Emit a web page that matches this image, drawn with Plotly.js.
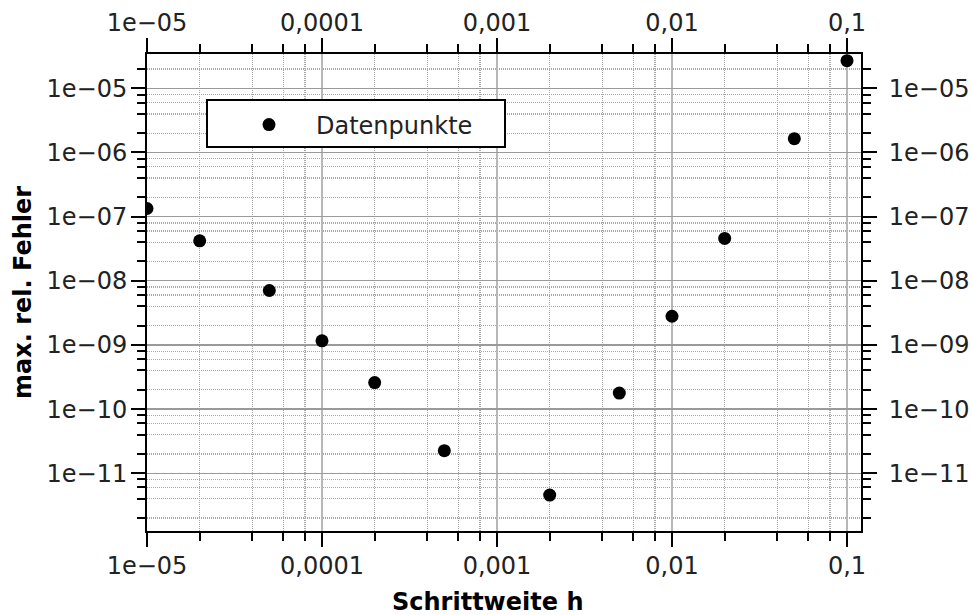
<!DOCTYPE html>
<html>
<head>
<meta charset="utf-8">
<script src="https://cdn.plot.ly/plotly-3.0.1.min.js"></script>
<style>html,body{margin:0;padding:0;background:#fff;}#plot{width:972px;height:615px;}</style>
</head>
<body>
<div id="plot"></div>
<script>
// Data
const stepSizes = [1e-5, 2e-5, 5e-5, 1e-4, 2e-4, 5e-4, 2e-3, 5e-3, 1e-2, 2e-2, 5e-2, 0.1];
const maxRelError = [1.34e-7, 4.19e-8, 7.06e-9, 1.16e-9, 2.59e-10, 2.25e-11, 4.57e-12, 1.78e-10, 2.8e-9, 4.57e-8, 1.64e-6, 2.70e-5];
const seriesName = 'Datenpunkte';

// Tick labels
const xTickVals = [1e-5, 1e-4, 1e-3, 1e-2, 0.1];
const xTickText = ['1e\u221205', '0,0001', '0,001', '0,01', '0,1'];
const yTickVals = [1e-11, 1e-10, 1e-9, 1e-8, 1e-7, 1e-6, 1e-5];
const yTickText = ['1e\u221211', '1e\u221210', '1e\u221209', '1e\u221208', '1e\u221207', '1e\u221206', '1e\u221205'];
const minorMultipliers = [2, 4, 6, 8];
const xDecades = [1e-6, 1e-5, 1e-4, 1e-3, 1e-2, 0.1];
const yDecades = [1e-12, 1e-11, 1e-10, 1e-9, 1e-8, 1e-7, 1e-6, 1e-5];

const xTitle = 'Schrittweite h';
const yTitle = 'max. rel. Fehler';

function minorVals(decades) {
  const out = [];
  decades.forEach(d => minorMultipliers.forEach(m => out.push(d * m)));
  return out;
}

const FONT = 'DejaVu Sans, sans-serif';
const TXT = '#222222';

const xRange = [-5, -0.92];
const yRange = [-11.9, -4.465];

function axisBase(vals, text, range, decades, grid, majorGridColor, majorGridWidth, standoff) {
  return {
    type: 'log',
    range: range,
    tickmode: 'array',
    tickvals: vals,
    ticktext: text,
    ticks: 'outside',
    ticklen: 14,
    tickwidth: 2,
    tickcolor: '#000',
    showline: true,
    linecolor: '#000',
    linewidth: 2,
    showgrid: grid,
    gridcolor: majorGridColor,
    gridwidth: majorGridWidth,
    zeroline: false,
    tickfont: {family: FONT, size: 24, color: TXT},
    ticklabelstandoff: standoff,
    minor: {
      tickmode: 'array',
      tickvals: minorVals(decades),
      ticks: 'outside',
      ticklen: 8,
      tickwidth: 2,
      tickcolor: '#000',
      showgrid: grid,
      gridcolor: '#a8a8a8',
      gridwidth: 1.3,
      griddash: '1px,1px'
    },
    fixedrange: true
  };
}

const xaxis = axisBase(xTickVals, xTickText, xRange, xDecades, true, '#b8b8b8', 2, -2);
xaxis.side = 'bottom';
const yaxis = axisBase(yTickVals, yTickText, yRange, yDecades, true, '#9a9a9a', 1.3, -1);
yaxis.side = 'left';
const xaxis2 = axisBase(xTickVals, xTickText, xRange, xDecades, false, '#b8b8b8', 2, -3);
xaxis2.side = 'top';
xaxis2.overlaying = 'x';
const yaxis2 = axisBase(yTickVals, yTickText, yRange, yDecades, false, '#9a9a9a', 1.3, 7);
yaxis2.side = 'right';
yaxis2.overlaying = 'y';

const traces = [
  {
    x: stepSizes, y: maxRelError, name: seriesName,
    type: 'scatter', mode: 'markers',
    marker: {color: '#000', size: 13},
    xaxis: 'x', yaxis: 'y', hoverinfo: 'x+y'
  },
  {
    x: stepSizes, y: maxRelError, showlegend: false,
    type: 'scatter', mode: 'markers',
    marker: {color: 'rgba(0,0,0,0)', size: 1},
    xaxis: 'x2', yaxis: 'y2', hoverinfo: 'skip'
  }
];

// plot area in pixels: x 147..861, y 54..531
const L = 147, R = 861, T = 54, B = 531;
const px = v => (v - L) / (R - L);
const py = v => (B - v) / (B - T);

const layout = {
  width: 972, height: 615,
  margin: {l: 147, r: 111, t: 54, b: 84, pad: 0},
  paper_bgcolor: '#fff', plot_bgcolor: '#fff',
  font: {family: FONT, size: 24, color: TXT},
  showlegend: true,
  legend: {
    x: px(222), y: py(125), xanchor: 'left', yanchor: 'middle',
    bgcolor: 'rgba(0,0,0,0)', borderwidth: 0,
    font: {family: FONT, size: 24, color: TXT},
    itemwidth: 84
  },
  shapes: [{
    type: 'rect', xref: 'paper', yref: 'paper',
    x0: px(207), x1: px(505), y0: py(147), y1: py(100),
    line: {color: '#000', width: 2}, fillcolor: '#fff', layer: 'above'
  }],
  annotations: [
    {
      text: '<b>' + xTitle + '</b>', xref: 'paper', yref: 'paper',
      x: px(487), y: py(602), xanchor: 'center', yanchor: 'middle',
      showarrow: false, font: {family: FONT, size: 24, color: '#000'}
    },
    {
      text: '<b>' + yTitle + '</b>', xref: 'paper', yref: 'paper',
      x: px(23), y: py(293), xanchor: 'center', yanchor: 'middle', textangle: -90,
      showarrow: false, font: {family: FONT, size: 24, color: '#000'}
    }
  ],
  xaxis: xaxis, yaxis: yaxis, xaxis2: xaxis2, yaxis2: yaxis2
};

Plotly.newPlot('plot', traces, layout, {displayModeBar: false, staticPlot: true});
</script>
</body>
</html>
